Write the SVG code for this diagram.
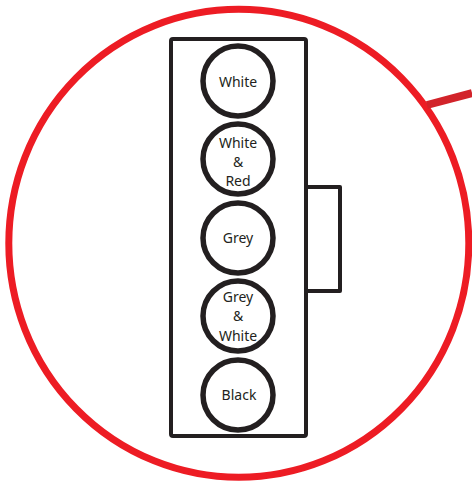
<svg xmlns="http://www.w3.org/2000/svg" width="472" height="484" viewBox="0 0 472 484">
<style>
.pin{fill:#fff;stroke:#231f20;stroke-width:5.500}
.box{fill:none;stroke:#231f20;stroke-width:4;stroke-linejoin:round}
text{font-family:"Noto Sans","Open Sans",sans-serif;font-size:14px;fill:#231f20;text-anchor:middle}
</style>
<rect width="472" height="484" fill="#fff"/>
<ellipse cx="238.800" cy="243.300" rx="230" ry="234" fill="#fff" stroke="#ed1c24" stroke-width="7"/>
<g id="connectors"><line x1="427" y1="105" x2="472" y2="93" stroke="#d2232a" stroke-width="8"/></g>
<g id="housing"><rect class="box" x="171" y="39" width="135" height="397" rx="2"/></g>
<g id="tab"><path class="box" d="M306 187H340V291H306"/></g>
<g id="pin1"><circle class="pin" cx="238" cy="81" r="35"/><text x="238" y="87">White</text></g>
<g id="pin2"><circle class="pin" cx="238" cy="159" r="35"/><text x="238" y="148">White</text><text x="238" y="167">&amp;</text><text x="238" y="186">Red</text></g>
<g id="pin3"><circle class="pin" cx="238" cy="238" r="35"/><text x="238" y="243">Grey</text></g>
<g id="pin4"><circle class="pin" cx="238" cy="316" r="35"/><text x="238" y="302">Grey</text><text x="238" y="321">&amp;</text><text x="238" y="341">White</text></g>
<g id="pin5"><circle class="pin" cx="238" cy="395" r="35"/><text x="239" y="400">Black</text></g>
</svg>
